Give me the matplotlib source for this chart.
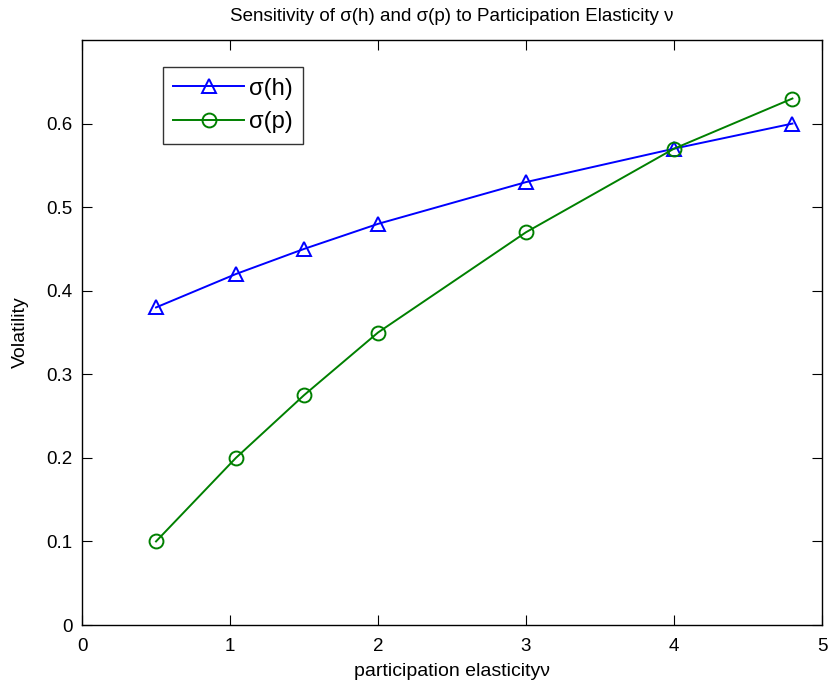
import matplotlib
matplotlib.use("Agg")
import matplotlib.pyplot as plt

x = [0.5, 1.04, 1.5, 2.0, 3.0, 4.0, 4.8]
sigma_h = [0.38, 0.42, 0.45, 0.48, 0.53, 0.57, 0.60]
sigma_p = [0.10, 0.20, 0.275, 0.35, 0.47, 0.57, 0.63]
xticks = [0, 1, 2, 3, 4, 5]
yticks = [0, 0.1, 0.2, 0.3, 0.4, 0.5, 0.6]

plt.rcParams['font.family'] = ['Liberation Sans', 'DejaVu Sans']
fig = plt.figure(figsize=(8.3, 6.9), dpi=100)
ax = fig.add_axes([0.0988, 0.0942, 0.8916, 0.8478])

ax.plot(x, sigma_h, color='#0000ff', marker='^', markersize=10, markerfacecolor='none',
        markeredgewidth=1.4, linewidth=1.4, label='σ(h)')
ax.plot(x, sigma_p, color='#008000', marker='o', markersize=10, markerfacecolor='none',
        markeredgewidth=1.4, linewidth=1.4, label='σ(p)')

ax.set_xlim(0, 5)
ax.set_ylim(0, 0.7)
ax.set_xticks(xticks)
ax.set_yticks(yticks)
ax.set_xticklabels([str(t) for t in xticks])
ax.set_yticklabels(['0'] + [f'{t:.1f}' for t in yticks[1:]])
ax.tick_params(direction='in', top=True, right=True, labelsize=13.5, length=7)
ax.tick_params(axis='x', pad=9)
ax.tick_params(axis='y', pad=7)
for s in ax.spines.values():
    s.set_linewidth(1.0)

ax.set_xlabel('participation elasticityν', fontsize=14, labelpad=6)
ax.set_ylabel('Volatility', fontsize=14, labelpad=12)
ax.set_title('Sensitivity of σ(h) and σ(p) to Participation Elasticity ν', fontsize=13.5, pad=14)

leg = ax.legend(loc='upper left', bbox_to_anchor=(0.109, 0.954), borderaxespad=0,
                fontsize=17, frameon=True, fancybox=False, edgecolor='black',
                handlelength=3.0, handletextpad=0.2, borderpad=0.45, labelspacing=0.5)
leg.get_frame().set_linewidth(1.0)

fig.savefig('out.png', dpi=100)
